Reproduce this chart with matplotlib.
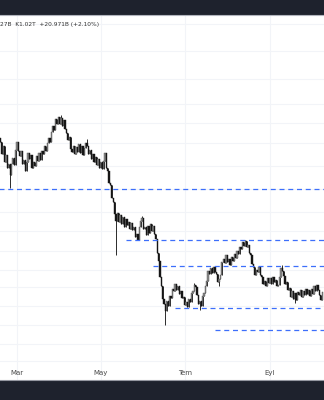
import pandas as pd
import matplotlib.pyplot as plt
import matplotlib.dates as mdates
import numpy as np

# daily closes (B), 17 Feb -> 9 Oct
closes = [
    1395, 1365, 1385, 1345, 1362, 1330, 1340,
    1312, 1340, 1355, 1338, 1375, 1395, 1372,
    1360, 1372, 1340, 1350, 1322, 1345, 1368,
    1352, 1362, 1330, 1345, 1335, 1360, 1348,
    1368, 1350, 1372, 1365, 1385, 1372, 1392,
    1405, 1395, 1420, 1435, 1425, 1452, 1440,
    1458, 1440, 1455, 1435, 1450, 1428, 1418,
    1400, 1408, 1378, 1370, 1385, 1365, 1382,
    1370, 1390, 1368, 1385, 1362, 1380, 1392,
    1385, 1365, 1375, 1352, 1365, 1345, 1358,
    1338, 1352, 1330, 1345, 1328, 1348, 1368,
    1330, 1322, 1292, 1288, 1255, 1245, 1215,
    1198, 1218, 1195, 1212, 1190, 1208, 1182,
    1202, 1188, 1195, 1178, 1192, 1175, 1182,
    1158, 1165, 1150, 1182, 1198, 1205, 1178,
    1182, 1162, 1185, 1168, 1190, 1172, 1186,
    1165, 1152, 1118, 1098, 1058, 1035, 1002,
    990, 972, 998, 985, 1010, 1005, 1028,
    1022, 1040, 1025, 1035, 1015, 1022, 1005,
    1008, 988, 995, 982, 1002, 995, 1018,
    1022, 1038, 1032, 1012, 990, 998, 985,
    1010, 1018, 1035, 1048, 1072, 1065, 1080,
    1068, 1082, 1070, 1065, 1045, 1052, 1062,
    1095, 1102, 1092, 1112, 1095, 1102, 1088,
    1108, 1098, 1115, 1105, 1122, 1115, 1132,
    1128, 1145, 1135, 1148, 1132, 1138, 1118,
    1112, 1090, 1082, 1062, 1075, 1070, 1082,
    1062, 1058, 1040, 1048, 1035, 1055, 1042,
    1055, 1040, 1058, 1045, 1050, 1035, 1038,
    1058, 1080, 1072, 1060, 1040, 1045, 1025,
    1030, 1008, 1022, 1002, 1018, 1000, 1020,
    1012, 1025, 1008, 1022, 1012, 1028, 1015,
    1025, 1010, 1028, 1015, 1035, 1022, 1038,
    1025, 1012, 999, 1020,
]
first_open = 1405

# long wicks that stand out
wick_highs = {'2025-04-02': 1462, '2025-04-21': 1402, '2025-05-31': 1210,
              '2025-07-08': 1042, '2025-08-14': 1150, '2025-09-10': 1088}
wick_lows = {'2025-02-24': 1280, '2025-05-12': 1112, '2025-06-17': 937,
             '2025-07-12': 975, '2025-07-26': 1035, '2025-09-19': 992}

# dashed levels: value, start date
levels = [1278, 1150, 1085, 980, 925]
level_starts = ['2025-02-01', '2025-05-19', '2025-06-08', '2025-06-24', '2025-07-23']

grid_levels = [1690, 1622, 1552, 1490, 1442, 1392, 1335, 1278, 1220,
               1172, 1122, 1075, 1032, 985, 938, 890, 848]
month_ticks = ['2025-03-01', '2025-05-01', '2025-07-01', '2025-09-01']
month_labels = ['Mar', 'May', 'Tem', 'Eyl']

header = '27B  K1.02T  +20.971B (+2.10%)'


def createplot():
    dates = pd.date_range('2025-02-17', periods=len(closes), freq='D')
    x = mdates.date2num(dates)
    c = np.array(closes, dtype=float)
    o = np.concatenate([[first_open], c[:-1]])
    hi = np.maximum(o, c)
    lo = np.minimum(o, c)
    for d, v in wick_highs.items():
        hi[dates.get_loc(pd.Timestamp(d))] = v
    for d, v in wick_lows.items():
        lo[dates.get_loc(pd.Timestamp(d))] = v

    fig = plt.figure(figsize=(3.24, 4.0), dpi=100)
    fig.patch.set_facecolor('white')

    # dark bars top and bottom
    top = fig.add_axes([0, 385 / 400, 1, 15 / 400])
    bot = fig.add_axes([0, 0, 1, 20 / 400])
    for a in (top, bot):
        a.set_facecolor('#1e222d')
        a.set_xticks([])
        a.set_yticks([])
        for s in a.spines.values():
            s.set_visible(False)
    fig.add_artist(plt.Line2D([0, 1], [385 / 400, 385 / 400], color='#b2b5be', lw=0.8))
    fig.add_artist(plt.Line2D([0, 1], [20 / 400, 20 / 400], color='#9598a1', lw=0.8))

    ax = fig.add_axes([0, 20 / 400, 1, 365 / 400])
    ax.set_facecolor('white')
    for s in ax.spines.values():
        s.set_visible(False)

    x0 = mdates.date2num(pd.Timestamp('2025-03-01'))
    ax.set_xlim(x0 - 12.36, x0 + 223.3)
    ax.set_ylim(800, 1712.5)

    mt = mdates.date2num(pd.to_datetime(month_ticks))
    for v in grid_levels:
        ax.axhline(v, color='#f2f4f8', lw=0.8, zorder=0)
    for v in mt:
        ax.axvline(v, color='#f2f4f8', lw=0.8, zorder=0)
    ax.set_xticks([])
    ax.set_yticks([])

    # candles
    up = c >= o
    ax.vlines(x, lo, hi, color='#2a2a2a', lw=0.7, zorder=2)
    body_h = np.maximum(np.abs(c - o), 2.0)
    ax.bar(x[up], body_h[up], bottom=np.minimum(o, c)[up], width=0.9,
           color='#8c8c8c', edgecolor='#4a4a4a', linewidth=0.3, zorder=3)
    ax.bar(x[~up], body_h[~up], bottom=np.minimum(o, c)[~up], width=0.9,
           color='#151515', edgecolor='#151515', linewidth=0.3, zorder=3)

    # dashed levels
    xmax = ax.get_xlim()[1]
    for v, d in zip(levels, level_starts):
        xs = mdates.date2num(pd.Timestamp(d))
        ax.hlines(v, xs, xmax, colors='#3d6ffb', lw=0.9,
                  linestyles=(0, (4, 3)), zorder=4)

    for v, lab in zip(mt, month_labels):
        ax.text(v, 0.019, lab, transform=ax.get_xaxis_transform(),
                ha='center', va='center', fontsize=5, color='#4a4a4a')

    ax.text(0.0, 0.975, header, transform=ax.transAxes, ha='left', va='center',
            fontsize=4.2, color='#333333')

    plt.savefig('out.png', dpi=100)


if __name__ == "__main__":
    createplot()
